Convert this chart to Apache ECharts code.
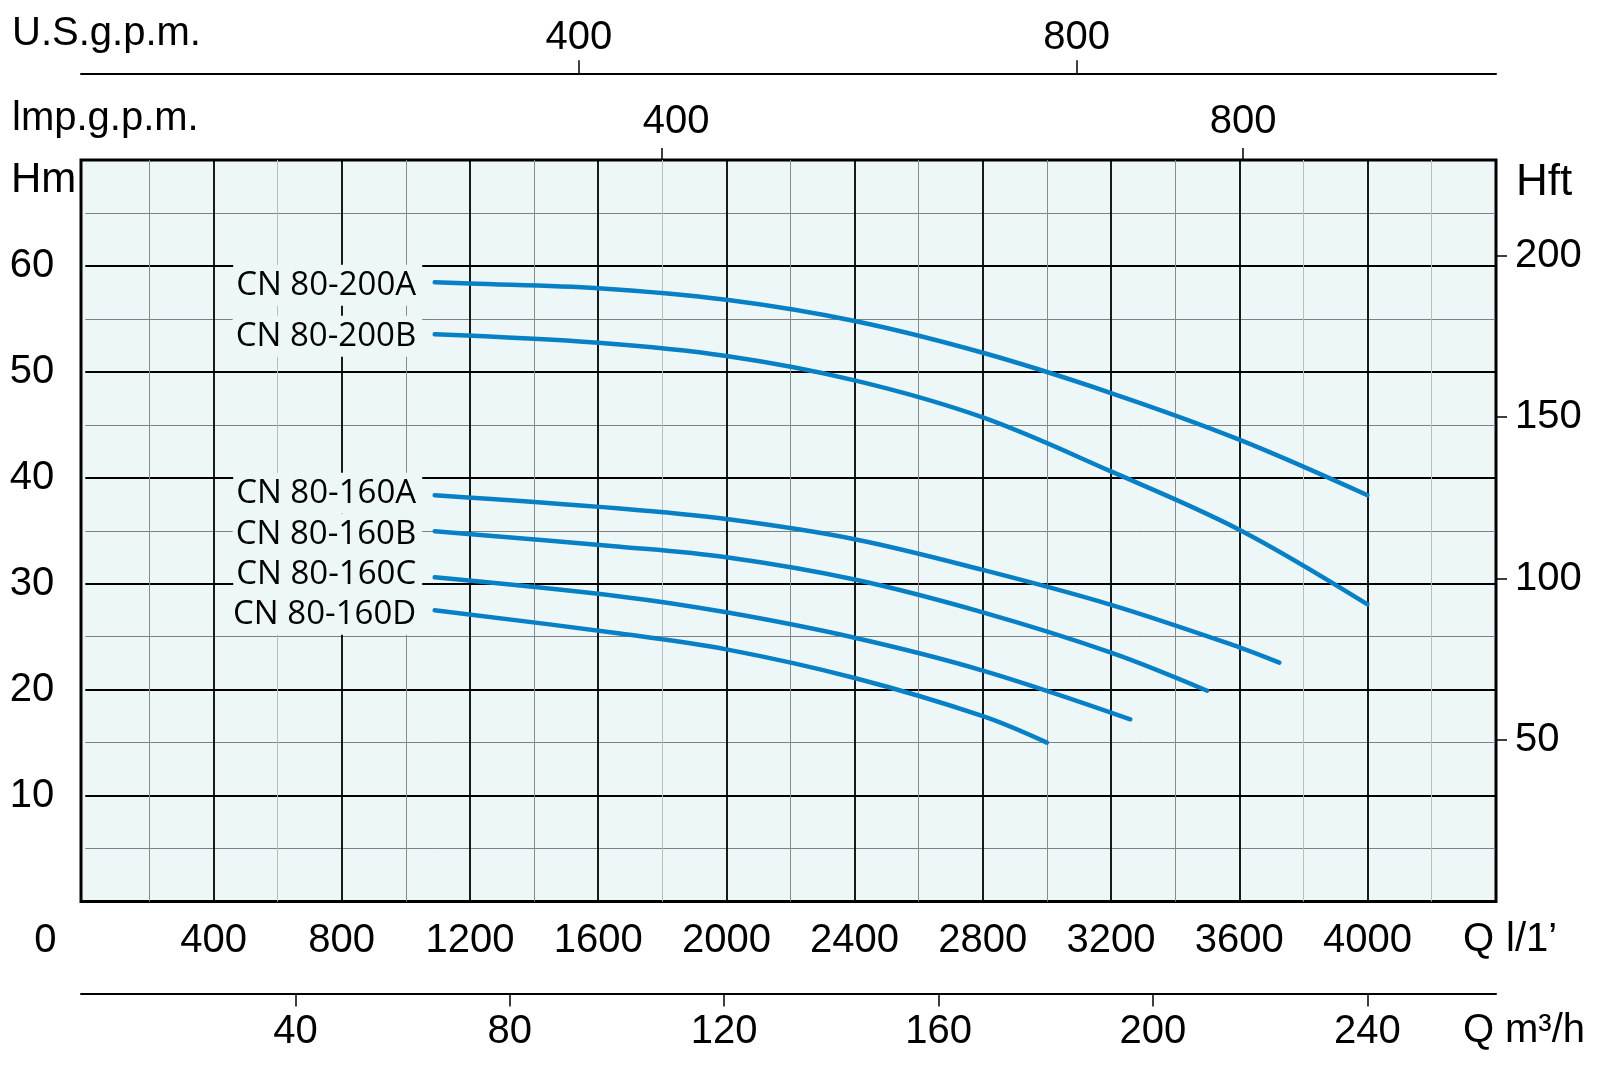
<!DOCTYPE html>
<html><head><meta charset="utf-8">
<script src="https://cdn.jsdelivr.net/npm/echarts@6/dist/echarts.min.js"></script>
<style>html,body{margin:0;padding:0;background:#fff}#c{width:1610px;height:1069px}</style>
</head><body><div id="c"></div><script>
// ---- data ----
const seriesNames = ['CN 80-200A','CN 80-200B','CN 80-160A','CN 80-160B','CN 80-160C','CN 80-160D'];
const cn80_200A = [[1090,58.45],[1200,58.35],[1600,57.9],[2000,56.8],[2400,54.8],[2800,51.8],[3200,48.0],[3600,43.6],[4000,38.35]];
const cn80_200B = [[1090,53.55],[1600,52.75],[2000,51.5],[2400,49.2],[2800,45.7],[3200,40.6],[3600,35.1],[4000,28.05]];
const cn80_160A = [[1090,38.35],[1668,37.1],[2000,36.1],[2400,34.2],[2800,31.3],[3200,28.0],[3600,24.0],[3725,22.55]];
const cn80_160B = [[1090,34.95],[1668,33.5],[2000,32.5],[2400,30.4],[2800,27.3],[3200,23.5],[3500,19.9]];
const cn80_160C = [[1090,30.6],[1668,28.8],[2000,27.3],[2400,24.9],[2800,21.8],[3260,17.2]];
const cn80_160D = [[1090,27.5],[1668,25.3],[2000,23.8],[2400,21.1],[2800,17.5],[3000,15.0]];
const curves = [cn80_200A, cn80_200B, cn80_160A, cn80_160B, cn80_160C, cn80_160D];
const labelYOffsets = [3, 2, -2, 3, -3, 4];

const lpmTicks = [400,800,1200,1600,2000,2400,2800,3200,3600,4000];
const lpmMinorLight = [600,1800,3800,4200];
const m3hTicks = [40,80,120,160,200,240];
const usgpmTicks = [400,800];
const impgpmTicks = [400,800];
const hmTicks = [10,20,30,40,50,60];
const hftTicks = [50,100,150,200];

// ---- style ----
const F = "'Liberation Sans',Arial,sans-serif";
const LF = "'Open Sans','Noto Sans',sans-serif";
const BG = '#eef7f8';
const BLUE = '#0880c6';
const NS = 40;
const numStyle = {fontFamily: F, fontSize: NS, color: '#000'};
const tStyle = (s) => ({fontFamily: F, fontSize: s, fontWeight: 'normal', color: '#000'});

// colours of the 200-step helper grid lines (majors drawn by the main axis)
const minorColors = [];
for (let v = 0; v <= 4400; v += 200) {
  if (v % 400 === 0) minorColors.push('rgba(0,0,0,0)');
  else minorColors.push(lpmMinorLight.indexOf(v) >= 0 ? '#b9bebe' : '#8a8a8a');
}

const chart = echarts.init(document.getElementById('c'), null, {renderer: 'canvas'});

const series = curves.map((d, i) => ({
  type: 'line',
  name: seriesNames[i],
  xAxisIndex: 0, yAxisIndex: 0,
  smooth: 0.35,
  symbol: 'circle', symbolSize: 1, showSymbol: true,
  itemStyle: {color: BLUE},
  lineStyle: {color: BLUE, width: 4.5, cap: 'round'},
  silent: true,
  z: 5,
  data: d.map((p, j) => j === 0 ? {
    value: p,
    label: {
      show: true, position: 'left', distance: 12,
      offset: [0, labelYOffsets[i]],
      formatter: seriesNames[i],
      fontFamily: LF, fontSize: 33, color: '#000',
      backgroundColor: BG, padding: [4, 6, 4, 3]
    }
  } : {value: p, label: {show: false}})
}));

const option = {
  animation: false,
  backgroundColor: '#fff',
  title: [
    {text: 'U.S.g.p.m.', left: 12, top: 14, padding: 0, textStyle: tStyle(40)},
    {text: 'lmp.g.p.m.', left: 12, top: 99, padding: 0, textStyle: tStyle(40)},
    {text: 'Hm', left: 11, top: 159, padding: 0, textStyle: tStyle(42)},
    {text: 'Hft', left: 1516, top: 161, padding: 0, textStyle: tStyle(44)},
    {text: 'Q', left: 1463, top: 920, padding: 0, textStyle: tStyle(NS)},
    {text: 'l/1\u2019', left: 1506, top: 920, padding: 0, textStyle: tStyle(NS)},
    {text: 'Q', left: 1463, top: 1011, padding: 0, textStyle: tStyle(NS)},
    {text: 'm\u00b3/h', left: 1505, top: 1011, padding: 0, textStyle: tStyle(NS)}
  ],
  grid: [
    {left: 81, top: 160, width: 1415, height: 741.5, show: true, backgroundColor: BG, borderColor: '#000', borderWidth: 3, containLabel: false},
    {left: 85.3, top: 160, width: 1410.4, height: 741.5, show: false, containLabel: false}
  ],
  xAxis: [
    { // l/min (data axis)
      gridIndex: 1, type: 'value', position: 'bottom', min: 0, max: 4400, interval: 400,
      axisLine: {show: false, onZero: false}, axisTick: {show: false},
      axisLabel: {
        margin: 19, ...numStyle,
        formatter: v => v === 0 ? '{z|0}' : (lpmTicks.indexOf(v) >= 0 ? String(v) : ''),
        rich: {z: {fontFamily: F, fontSize: NS, color: '#000', padding: [0, 80, 0, 0]}}
      },
      splitLine: {show: true, showMinLine: false, lineStyle: {color: '#000', width: 1.8}},
      z: 3
    },
    { // m3/h
      gridIndex: 0, type: 'value', position: 'bottom', offset: 92, min: 0, max: 264,
      axisLine: {show: true, onZero: false, lineStyle: {color: '#000', width: 2}},
      axisTick: {show: true, length: 13, customValues: m3hTicks, lineStyle: {color: '#000', width: 1.5}},
      axisLabel: {margin: 18, customValues: m3hTicks, ...numStyle},
      splitLine: {show: false}
    },
    { // Imp gpm
      gridIndex: 0, type: 'value', position: 'top', offset: 0, min: 0, max: 974,
      axisLine: {show: false, onZero: false},
      axisTick: {show: true, length: 12, customValues: impgpmTicks, lineStyle: {color: '#000', width: 1.5}},
      axisLabel: {margin: 18, customValues: impgpmTicks, ...numStyle,
        formatter: v => v === 400 ? '{r|400}' : String(v),
        rich: {r: {fontFamily: F, fontSize: NS, color: '#000', padding: [0, 0, 0, 28]}}},
      splitLine: {show: false}
    },
    { // US gpm
      gridIndex: 0, type: 'value', position: 'top', offset: 86.7, min: 0, max: 1137,
      axisLine: {show: true, onZero: false, lineStyle: {color: '#000', width: 2}},
      axisTick: {show: true, length: 13, customValues: usgpmTicks, lineStyle: {color: '#000', width: 1.5}},
      axisLabel: {margin: 15, customValues: usgpmTicks, ...numStyle},
      splitLine: {show: false}
    },
    { // helper: minor vertical grid lines every 200 l/min
      gridIndex: 1, type: 'value', position: 'top', min: 0, max: 4400, interval: 200,
      axisLine: {show: false, onZero: false}, axisTick: {show: false}, axisLabel: {show: false},
      splitLine: {show: true, lineStyle: {color: minorColors, width: 1}},
      z: 1
    }
  ],
  yAxis: [
    { // H m
      gridIndex: 1, type: 'value', position: 'left', min: 0, max: 70, interval: 10,
      axisLine: {show: false, onZero: false}, axisTick: {show: false},
      axisLabel: {margin: 31, ...numStyle, formatter: v => hmTicks.indexOf(v) >= 0 ? String(v) : ''},
      splitLine: {show: true, lineStyle: {color: '#000', width: 1.8}},
      minorTick: {show: false, splitNumber: 2},
      minorSplitLine: {show: true, lineStyle: {color: '#808080', width: 1}}
    },
    { // H ft
      gridIndex: 0, type: 'value', position: 'right', min: 0, max: 70 / 0.3048,
      axisLine: {show: false, onZero: false},
      axisTick: {show: true, length: 11, customValues: hftTicks, lineStyle: {color: '#000', width: 1.5}},
      axisLabel: {margin: 19, customValues: hftTicks, ...numStyle},
      splitLine: {show: false}
    }
  ],
  series: series
};
chart.setOption(option);
</script></body></html>
